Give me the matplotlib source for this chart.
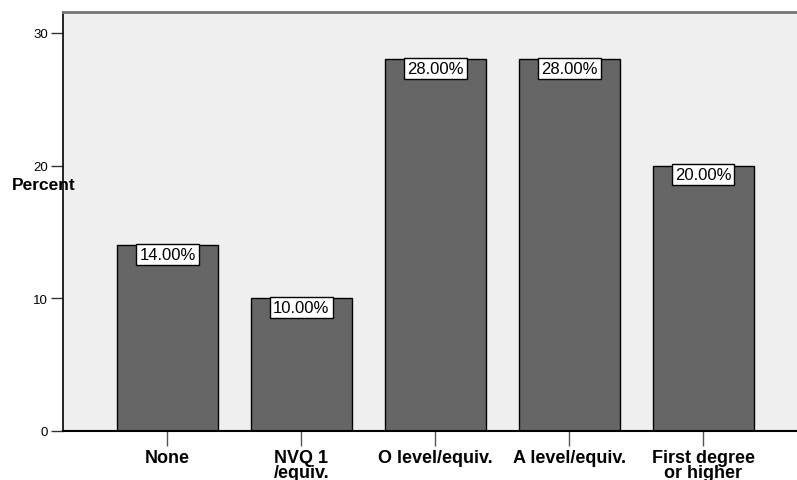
import matplotlib.pyplot as plt
import numpy as np

plt.rcParams['font.family'] = ['Liberation Sans', 'DejaVu Sans']

categories = ['None', 'NVQ 1\n/equiv.', 'O level/equiv.', 'A level/equiv.', 'First degree\nor higher']
percent = [14.0, 10.0, 28.0, 28.0, 20.0]
yticks = [0, 10, 20, 30]

fig = plt.figure(figsize=(7.97, 4.81), dpi=100)
W, H = 797, 481
ax = fig.add_axes([63 / W, 1 - 432 / H, (797 - 63) / W, (432 - 13) / H])
ax.set_facecolor('#efefef')

x = np.arange(len(categories))
ax.bar(x, percent, width=0.754, color='#666666', edgecolor='black', linewidth=1.0, zorder=2)

# value boxes hang from the top of each bar
for xi, v in zip(x, percent):
    ax.text(xi, v - 0.1, f'{v:.2f}%', ha='center', va='top', fontsize=12,
            bbox=dict(boxstyle='square,pad=0.18', facecolor='white', edgecolor='black', linewidth=1.0),
            zorder=3)

ax.set_xlim(-0.78, 4.70)
ax.set_ylim(0, 31.58)
ax.set_yticks(yticks)
ax.set_yticklabels([str(t) for t in yticks], fontsize=9.5)
ax.set_xticks(x)
ax.set_xticklabels(categories, fontsize=13, fontweight='bold', linespacing=0.85)
ax.tick_params(axis='y', length=9, width=1, color='#333333', pad=2)
ax.tick_params(axis='x', length=11, width=1, color='#555555', pad=2)

ax.spines['right'].set_visible(False)
ax.spines['top'].set_color('#777777')
ax.spines['top'].set_linewidth(2)
ax.spines['left'].set_linewidth(1.2)
ax.spines['bottom'].set_linewidth(1.5)

fig.text(12 / W, 1 - 186 / H, 'Percent', fontsize=12.5, fontweight='bold', va='center', ha='left')

fig.savefig('out.png', dpi=100)
